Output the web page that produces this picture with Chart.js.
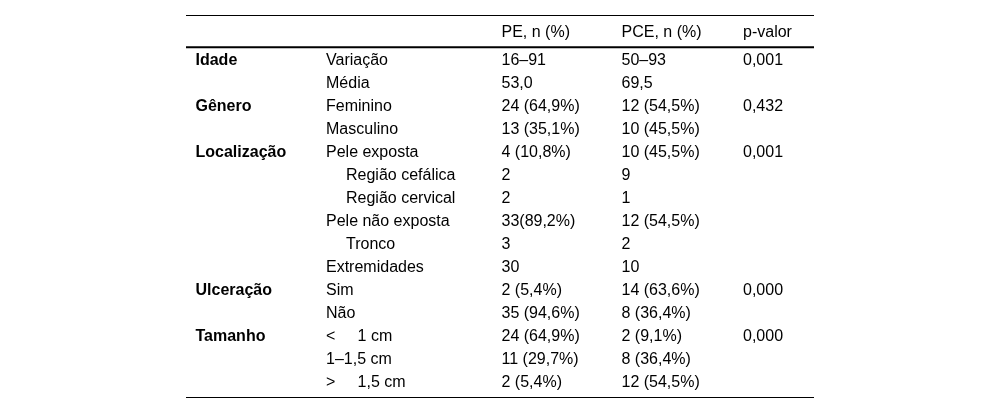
<!DOCTYPE html>
<html>
<head>
<meta charset="utf-8">
<script src="https://cdn.jsdelivr.net/npm/chart.js@4.4.1/dist/chart.umd.min.js"></script>
<style>
    html, body { margin: 0; padding: 0; background: #fff; }
    #wrap { width: 1000px; height: 415px; position: relative; }
</style>
</head>
<body>
<div id="wrap"><canvas id="tabela"></canvas></div>
<script>
// dados da tabela
var headers = ["", "", "PE, n (%)", "PCE, n (%)", "p-valor"];
var grupos = ["Idade", "", "Gênero", "", "Localização", "", "", "", "", "", "Ulceração", "", "Tamanho", "", ""];
var variaveis = ["Variação", "Média", "Feminino", "Masculino", "Pele exposta", "Região cefálica", "Região cervical",
    "Pele não exposta", "Tronco", "Extremidades", "Sim", "Não", "<     1 cm", "1–1,5 cm", ">     1,5 cm"];
var subnivel = [0, 0, 0, 0, 0, 1, 1, 0, 1, 0, 0, 0, 0, 0, 0];
var pe = ["16–91", "53,0", "24 (64,9%)", "13 (35,1%)", "4 (10,8%)", "2", "2", "33(89,2%)", "3", "30",
    "2 (5,4%)", "35 (94,6%)", "24 (64,9%)", "11 (29,7%)", "2 (5,4%)"];
var pce = ["50–93", "69,5", "12 (54,5%)", "10 (45,5%)", "10 (45,5%)", "9", "1", "12 (54,5%)", "2", "10",
    "14 (63,6%)", "8 (36,4%)", "2 (9,1%)", "8 (36,4%)", "12 (54,5%)"];
var pvalor = ["0,001", "", "0,432", "", "0,001", "", "", "", "", "", "0,000", "", "0,000", "", ""];

// layout (eixo x em px, eixo y em linhas)
var colX = [195.5, 326, 501.5, 621.5, 743];
var recuo = 20;
var linhaHeader = -28 / 23;
var regras = [
    { y: -49.5 / 23, w: 1 },
    { y: -17.7 / 23, w: 2 },
    { y: 332.5 / 23, w: 1.2 }
];
var tabX = [186, 814];
var fonte = "16px 'Liberation Sans', Arial, sans-serif";
var fonteBold = "bold 16px 'Liberation Sans', Arial, sans-serif";

function colunaDataset(textos, col, bold, niveis) {
    var pts = [];
    for (var i = 0; i < textos.length; i++) {
        pts.push({ x: colX[col] + (niveis ? niveis[i] * recuo : 0), y: i, t: textos[i] });
    }
    return { data: pts, bold: bold, pointRadius: 0, pointHoverRadius: 0 };
}

var headerSet = {
    data: headers.map(function (h, c) { return { x: colX[c], y: linhaHeader, t: h }; }),
    bold: false, pointRadius: 0, pointHoverRadius: 0
};

var tabelaPlugin = {
    id: "tabelaTexto",
    afterDatasetsDraw: function (chart) {
        var ctx = chart.ctx;
        var xs = chart.scales.x, ys = chart.scales.y;
        ctx.save();
        ctx.strokeStyle = "#000";
        regras.forEach(function (r) {
            var py = ys.getPixelForValue(r.y);
            ctx.lineWidth = r.w;
            ctx.beginPath();
            ctx.moveTo(xs.getPixelForValue(tabX[0]), py);
            ctx.lineTo(xs.getPixelForValue(tabX[1]), py);
            ctx.stroke();
        });
        ctx.fillStyle = "#000";
        ctx.textBaseline = "alphabetic";
        ctx.textAlign = "left";
        chart.data.datasets.forEach(function (ds, di) {
            var meta = chart.getDatasetMeta(di);
            ctx.font = ds.bold ? fonteBold : fonte;
            meta.data.forEach(function (el, i) {
                var t = ds.data[i].t;
                if (t) ctx.fillText(t, el.x, el.y);
            });
        });
        ctx.restore();
    }
};

var ctx = document.getElementById("tabela").getContext("2d");
var tabela = new Chart(ctx, {
    type: "scatter",
    data: {
        datasets: [
            headerSet,
            colunaDataset(grupos, 0, true),
            colunaDataset(variaveis, 1, false, subnivel),
            colunaDataset(pe, 2, false),
            colunaDataset(pce, 3, false),
            colunaDataset(pvalor, 4, false)
        ]
    },
    options: {
        responsive: true,
        maintainAspectRatio: false,
        animation: false,
        layout: { padding: 0 },
        plugins: { legend: { display: false }, tooltip: { enabled: false } },
        events: [],
        scales: {
            x: { type: "linear", display: false, min: 0, max: 1000 },
            y: { type: "linear", display: false, reverse: true, min: -65 / 23, max: 350 / 23 }
        }
    },
    plugins: [tabelaPlugin]
});
</script>
</body>
</html>
